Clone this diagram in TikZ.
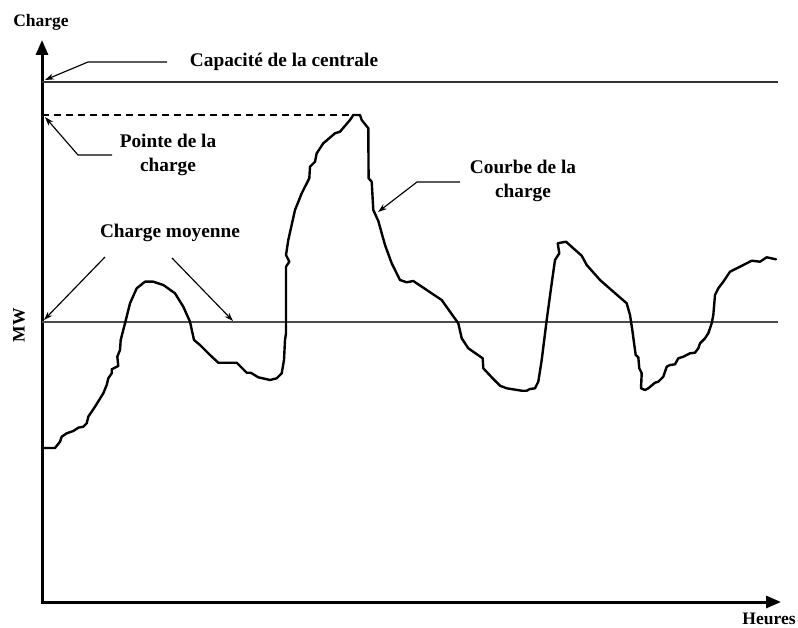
\documentclass[tikz,border=0pt]{standalone}
\usepackage{fontspec}
\setmainfont{Liberation Serif}
\usetikzlibrary{arrows.meta}
\begin{document}
\begin{tikzpicture}[x=1pt,y=-1pt,
  lbl/.style={font=\fontsize{19.3}{24}\selectfont\bfseries, inner sep=0pt},
  axlbl/.style={font=\fontsize{17.5}{20}\selectfont\bfseries, inner sep=0pt},
  axisline/.style={line width=3pt, -{Triangle[length=15pt,width=12pt]}},
  leader/.style={line width=1.15pt, -{Stealth[length=9pt,width=6pt]}},
  loadcurve/.style={line width=2.4pt, line join=round, line cap=round},
  refline/.style={line width=1.7pt, draw=black!70}]
\useasboundingbox (0,0) rectangle (798,628);
% axes
\coordinate (O) at (42,602);
\coordinate (ytip) at (42,40);
\coordinate (xtip) at (781,602);
\draw[axisline] (O) -- (ytip);
\draw[axisline] ([xshift=-1.5pt]O) -- (xtip);
% reference lines
\coordinate (capL) at (42,82);
\coordinate (capR) at (778,82);
\draw[refline, draw=black!80] (capL) -- (capR);
\coordinate (moyL) at (42,322);
\coordinate (moyR) at (778,322);
\draw[refline] (moyL) -- (moyR);
\coordinate (pkL) at (42,115);
\coordinate (pkR) at (352,115);
\draw[line width=1.1pt, dash pattern=on 7pt off 5pt] (pkL) -- (pkR);
% load curve
\draw[loadcurve] (43,448) -- (55,448) -- (60,441.7) -- (61.7,436.7) -- (66.7,433.3) -- (73.3,431) -- (78.3,427.7) -- (83.3,426.7) -- (86.7,423.3) -- (88.3,416.7) -- (95,406.7) -- (103.3,393.3) -- (106.7,385) -- (108.3,378.3) -- (111.7,373.3) -- (111.7,369.3) -- (118.3,366) -- (117.3,356.7) -- (120,350) -- (120.7,340) -- (125,323.3) -- (130,303.3) -- (136.7,288.3) -- (145,281.7) -- (153.3,281.7) -- (163.3,285) -- (175,293.3) -- (183.3,306.7) -- (190,321.7) -- (194,340) -- (200,345) -- (210,355) -- (218.3,362.7) -- (236.7,362.7) -- (246.7,372.7) -- (250.7,372.7) -- (258.3,377.3) -- (270,380) -- (276.7,378.3) -- (281.7,373.3) -- (284,360) -- (285,340) -- (286,333.3) -- (286,266.7) -- (289.3,261.7) -- (286,255) -- (288.3,240) -- (295,210) -- (301.7,193.3) -- (309.3,178.3) -- (310,166.7) -- (315,161.7) -- (316.7,153.3) -- (323.3,143.3) -- (335,133.3) -- (340,131.7) -- (350,120) -- (353.3,115) -- (360,115) -- (361.7,120) -- (368.3,128.3) -- (368.6,178.3) -- (371.7,181.7) -- (373.3,210) -- (378.3,221) -- (385,245) -- (391.7,263.3) -- (400,280) -- (406.7,282.3) -- (413.3,281) -- (426.7,290) -- (441.7,300) -- (450,311.7) -- (458.3,323.3) -- (461.7,338.3) -- (468.3,348.3) -- (482.7,358.3) -- (483.3,368.3) -- (491.7,377.3) -- (500,385.7) -- (506.7,388.3) -- (521.7,390.7) -- (526.7,390.7) -- (530,389) -- (535,388.3) -- (538.3,381.7) -- (541.7,360) -- (546.7,320) -- (551.7,283.3) -- (555,260) -- (559.3,253.3) -- (557.7,243.3) -- (566,241.7) -- (573.3,248.3) -- (581.7,255.7) -- (586.7,265) -- (600,280) -- (613.3,291.7) -- (626.7,303.3) -- (630,315) -- (632.3,330) -- (634.3,345) -- (635.7,355) -- (638.3,357.3) -- (639.3,368.3) -- (641.7,373.3) -- (641,388.3) -- (645,390) -- (648.3,388.3) -- (655,382.7) -- (658.3,381.7) -- (663.3,376.7) -- (666.7,366.7) -- (670,365) -- (675,364.3) -- (678.3,358.3) -- (683.3,356.7) -- (690,353.3) -- (695,352.7) -- (698.3,348.3) -- (700,343.3) -- (705,338.3) -- (708.3,333.3) -- (711.7,323.3) -- (713.3,315) -- (715,295) -- (718.3,288.3) -- (723.3,281.7) -- (730,271.7) -- (740,266.7) -- (751.7,260.7) -- (760,261.7) -- (766.7,257.3) -- (776,259.3);
% labels
\node[axlbl] (chg) at (41,22) {Charge};
\node[axlbl, rotate=90] (mw) at (19,325) {MW};
\node[axlbl] (heures) at (769,619) {Heures};
\node[lbl] (cap) at (284,62) {Capacité de la centrale};
\node[lbl, align=center] (pointe) at (168,155) {Pointe de la\\charge};
\node[lbl, align=center] (courbe) at (523,181) {Courbe de la\\charge};
\node[lbl] (moy) at (170,233) {Charge moyenne};
% leaders
\coordinate (capA) at (167,62);
\coordinate (capB) at (88,62);
\coordinate (capT) at (45,80);
\draw[leader] (capA) -- (capB) -- (capT);
\coordinate (ptA) at (112,155);
\coordinate (ptB) at (78,155);
\coordinate (ptT) at (45,117);
\draw[leader] (ptA) -- (ptB) -- (ptT);
\coordinate (crA) at (460,182);
\coordinate (crB) at (417,182);
\coordinate (crT) at (378,212);
\draw[leader] (crA) -- (crB) -- (crT);
\coordinate (myA) at (105,257);
\coordinate (myT) at (44,320);
\draw[leader] (myA) -- (myT);
\coordinate (mzA) at (172,258);
\coordinate (mzT) at (233,321);
\draw[leader] (mzA) -- (mzT);
\end{tikzpicture}
\end{document}
